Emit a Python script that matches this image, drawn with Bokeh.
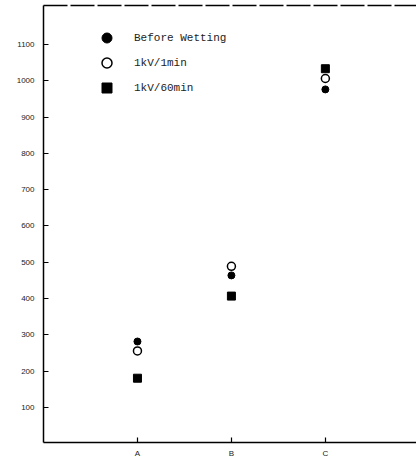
from bokeh.plotting import figure
from bokeh.models import FixedTicker, LinearAxis, Legend, LegendItem, Range1d
from bokeh.embed import file_html
from bokeh.resources import INLINE

categories = ["A", "B", "C"]
cat_pos = [1, 2, 3]
before_wetting = [282, 464, 976]
kv_1min = [256, 489, 1006]
kv_60min = [181, 407, 1033]
y_ticks = [100, 200, 300, 400, 500, 600, 700, 800, 900, 1000, 1100]
series_labels = ["Before Wetting", "1kV/1min", "1kV/60min"]

p = figure(width=416, height=462, output_backend="svg", toolbar_location=None,
           x_range=Range1d(0, 3.97), y_range=Range1d(4, 1207),
           min_border_left=43, min_border_right=0, min_border_top=5, min_border_bottom=20)
p.outline_line_color = None
p.grid.visible = False
p.background_fill_color = None
p.border_fill_color = None

r1 = p.scatter(cat_pos, before_wetting, marker="circle", size=7, color="black")
r2 = p.scatter(cat_pos, kv_1min, marker="circle", size=8, fill_color="white",
               line_color="black", line_width=1.5)
r3 = p.scatter(cat_pos, kv_60min, marker="square", size=8, color="black")

for ax in (p.xaxis[0], p.yaxis[0]):
    ax.axis_line_color = "black"
    ax.axis_line_width = 1.5
    ax.major_tick_in = 5
    ax.major_tick_out = 0
    ax.minor_tick_line_color = None
    ax.major_tick_line_color = "black"
    ax.major_tick_line_width = 1.2
    ax.major_label_text_font = "Liberation Sans"
    ax.major_label_text_font_size = "8px"
    ax.major_label_text_color = "#222222"

p.yaxis[0].ticker = FixedTicker(ticks=y_ticks)
p.yaxis[0].major_label_standoff = 9
p.xaxis[0].ticker = FixedTicker(ticks=cat_pos)
p.xaxis[0].major_label_overrides = {pos: lab for pos, lab in zip(cat_pos, categories)}
p.xaxis[0].major_label_standoff = 6

top = LinearAxis(ticker=FixedTicker(ticks=[]), axis_line_color="black", axis_line_width=1.5,
                 axis_line_dash="24 3", major_tick_in=0, major_tick_out=0,
                 minor_tick_line_color=None, major_label_standoff=0,
                 major_label_text_font_size="0px")
p.add_layout(top, "above")

legend = Legend(items=[LegendItem(label=series_labels[0], renderers=[r1]),
                       LegendItem(label=series_labels[1], renderers=[r2]),
                       LegendItem(label=series_labels[2], renderers=[r3])],
                location=(51, 342), glyph_width=25, glyph_height=25, label_height=18,
                spacing=0, padding=0, margin=0, label_standoff=15,
                label_text_font="Liberation Mono", label_text_font_size="11px",
                label_text_color="#222222",
                border_line_color=None, background_fill_alpha=0)
p.add_layout(legend, "center")

open("out.html", "w").write(file_html(p, INLINE))
